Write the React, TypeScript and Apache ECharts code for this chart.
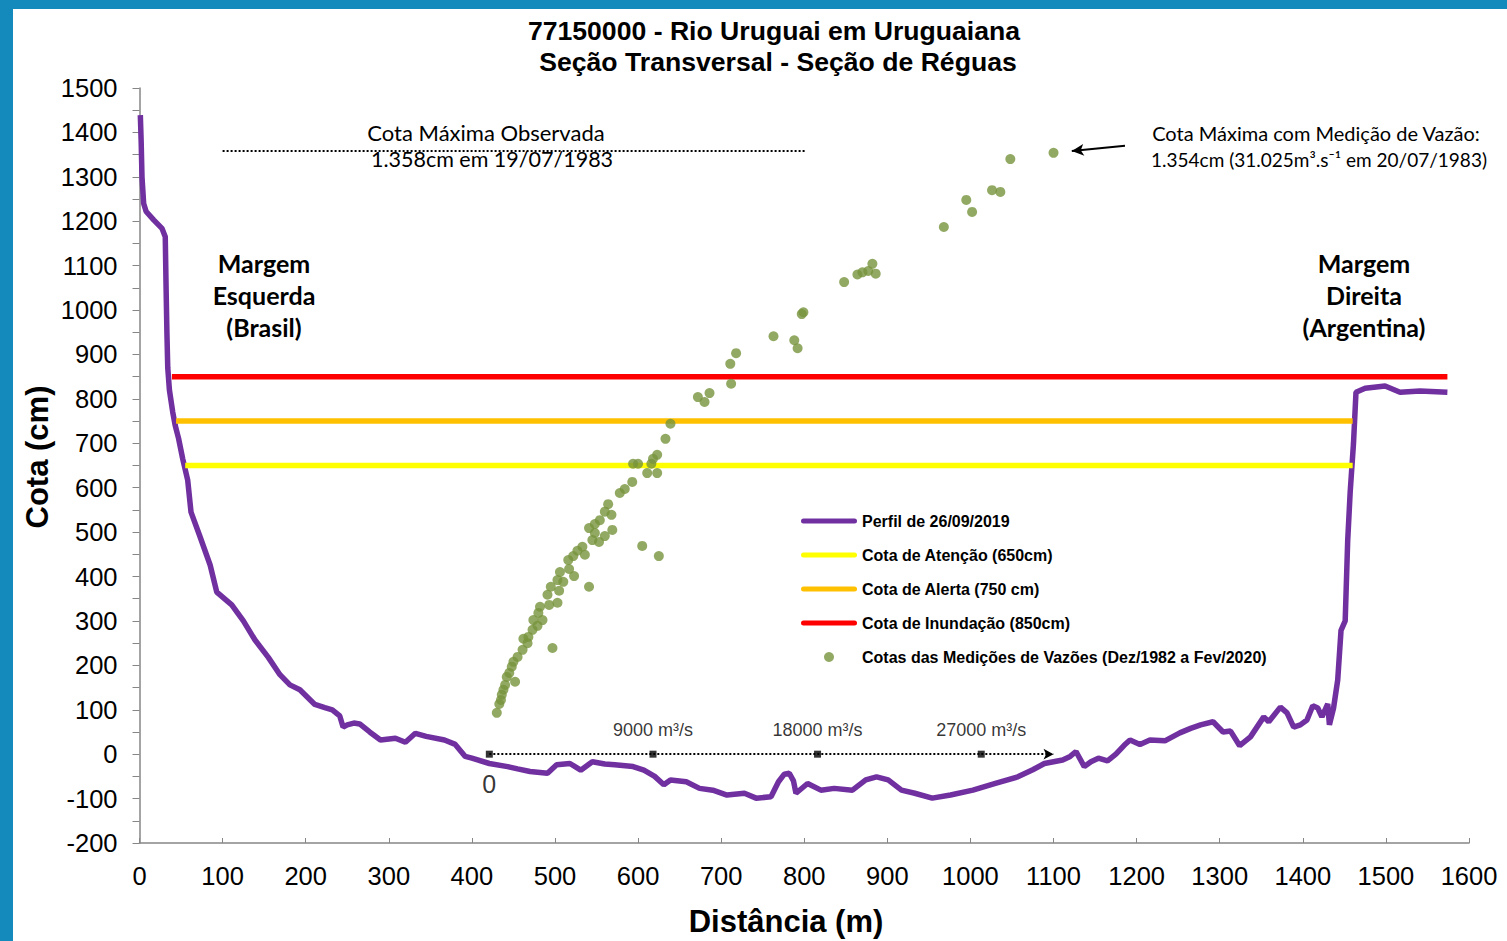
import React, { useEffect, useRef } from "react";
import * as echarts from "echarts";

// ---- Data ----
const titleLines = ["77150000 - Rio Uruguai em Uruguaiana", "Seção Transversal - Seção de Réguas"];

// Cross-section profile (26/09/2019): distance (m) and elevation (cm)
const profileX = [1, 2, 3, 5, 8, 17, 27, 31, 32, 33, 34, 36, 40, 43, 47, 52, 58, 62, 72, 85, 93, 111, 125, 139, 155, 169, 181, 193, 211, 223, 232, 241, 245, 250, 258, 265, 277, 290, 308, 320, 332, 345, 367, 380, 392, 400, 421, 443, 455, 470, 491, 502, 518, 531, 545, 560, 572, 594, 607, 620, 631, 639, 658, 674, 690, 707, 728, 742, 760, 769, 776, 782, 787, 790, 804, 820, 836, 858, 874, 887, 901, 917, 933, 954, 976, 1003, 1030, 1057, 1075, 1089, 1100, 1111, 1120, 1127, 1137, 1145, 1154, 1165, 1175, 1185, 1192, 1204, 1216, 1234, 1252, 1265, 1277, 1292, 1304, 1313, 1324, 1337, 1353, 1359, 1373, 1381, 1389, 1397, 1405, 1412, 1418, 1423, 1430, 1432, 1437, 1442, 1446, 1451, 1454, 1457, 1461, 1464, 1475, 1499, 1517, 1541, 1574];
const profileY = [1439, 1380, 1300, 1240, 1222, 1203, 1184, 1165, 1050, 948, 870, 820, 770, 740, 711, 665, 617, 545, 494, 426, 365, 336, 300, 257, 218, 179, 156, 145, 112, 105, 100, 86, 61, 66, 70, 68, 50, 32, 36, 27, 47, 40, 32, 22, -5, -9, -21, -28, -33, -39, -43, -24, -21, -36, -17, -22, -24, -28, -36, -50, -69, -58, -62, -77, -81, -92, -88, -99, -96, -62, -45, -43, -60, -88, -66, -81, -77, -81, -58, -51, -58, -81, -88, -99, -92, -81, -66, -51, -35, -21, -17, -13, -5, 6, -28, -17, -9, -15, 0, 20, 32, 22, 32, 30, 48, 58, 66, 73, 50, 52, 19, 39, 84, 73, 106, 93, 61, 66, 77, 109, 104, 84, 113, 66, 104, 167, 279, 300, 480, 590, 700, 815, 824, 829, 815, 818, 815];

// Reference levels (cm) and their drawn extent (m)
const levelNames = ["Cota de Atenção (650cm)", "Cota de Alerta (750 cm)", "Cota de Inundação (850cm)"];
const levelValues = [650, 750, 850];
const levelStartX = [55, 44, 39];
const levelEndX = [1460, 1460, 1574];
const levelColors = ["#FFFF00", "#FFC000", "#FF0000"];

// Stage of discharge measurements (distance on the discharge scale, stage cm)
const measX = [1100, 1048, 1026, 1036, 995, 1002, 968, 882, 877, 870, 864, 886, 848, 799, 797, 763, 788, 792,
  718, 711, 712, 672, 680, 686, 639, 633, 623, 618, 616, 594, 600, 611, 623, 593, 584, 578,
  564, 560, 568, 554, 548, 541, 548, 569, 560, 545, 553, 605, 625, 533, 527, 536, 522, 516, 517, 523, 506, 503, 510, 495, 505, 541, 491, 503, 493, 482, 480, 485, 474, 479, 473, 468, 462, 467, 497, 461, 455, 450, 448, 445, 442, 452, 440, 438, 436, 435, 433, 430];
const measY = [1354, 1340, 1270, 1266, 1248, 1221, 1187, 1104, 1088, 1085, 1080, 1082, 1063, 995, 991, 941, 932, 914,
  903, 879, 834, 804, 793, 813, 744, 710, 674, 665, 654, 654, 654, 633, 633, 613, 597, 588,
  563, 546, 539, 527, 518, 509, 498, 505, 491, 482, 478, 469, 446, 467, 458, 449, 446, 437, 417, 401, 410, 392, 388, 377, 368, 377, 359, 341, 336, 332, 318, 302, 302, 289, 280, 264, 260, 250, 239, 235, 219, 208, 197, 183, 174, 163, 156, 145, 134, 122, 113, 93];

// Discharge scale drawn along elevation 0
const dischargeTickX = [421, 618, 816, 1013];
const dischargeTickLabels = ["0", "9000 m³/s", "18000 m³/s", "27000 m³/s"];
const dischargeArrowEndX = 1100;

// Maximum observed stage line
const maxObserved = 1358;
const maxObservedStartX = 100;
const maxObservedEndX = 802;
// Maximum stage with discharge measurement arrow (from, to)
const maxMeasArrow = [[1186, 1370], [1122, 1358]];

const LINE_ICON = "path://M2.5,0 L53.5,0 A2.5,2.5 0 0 1 53.5,5 L2.5,5 A2.5,2.5 0 0 1 2.5,0 Z";

export default function App() {
  const ref = useRef<HTMLDivElement>(null);
  useEffect(() => {
    if (!ref.current) return;
    const chart = echarts.init(ref.current, null, { renderer: "svg" });
    const axisColor = "#868686";
    const numFont = "'Liberation Sans', Arial, sans-serif";
    const calFont = "Lato, 'Open Sans', sans-serif";
    const plain = (v: number) => String(v);

    const levelSeries = levelNames.map((n, i) => ({
      name: n,
      type: "line",
      data: [[levelStartX[i], levelValues[i]], [levelEndX[i], levelValues[i]]],
      symbol: "none",
      color: levelColors[i],
      itemStyle: { color: levelColors[i] },
      lineStyle: { color: levelColors[i], width: 5.5 },
      z: 3,
      silent: true,
    }));

    const center = { align: "center", verticalAlign: "middle", textAlign: "center", textVerticalAlign: "middle" };

    const option: any = {
      animation: false,
      backgroundColor: "#1489bb",
      grid: { left: 139.5, right: 38, top: 88, bottom: 98, containLabel: false },
      xAxis: {
        type: "value",
        min: 0,
        max: 1600,
        interval: 100,
        axisLine: { onZero: false, lineStyle: { color: axisColor, width: 1.5 } },
        axisTick: { inside: true, length: 5, lineStyle: { color: axisColor } },
        axisLabel: { color: "#000", fontSize: 25.5, fontFamily: numFont, margin: 20, formatter: plain },
        splitLine: { show: false },
      },
      yAxis: {
        type: "value",
        min: -200,
        max: 1500,
        interval: 100,
        axisLine: { show: true, onZero: false, lineStyle: { color: axisColor, width: 1.5 } },
        axisTick: { show: true, length: 7, lineStyle: { color: axisColor } },
        minorTick: { show: true, splitNumber: 2, length: 7, lineStyle: { color: axisColor } },
        axisLabel: { color: "#000", fontSize: 25.5, fontFamily: numFont, margin: 22, formatter: plain },
        splitLine: { show: false },
      },
      legend: {
        orient: "vertical",
        left: 801,
        top: 512,
        padding: 0,
        itemWidth: 56,
        itemHeight: 10,
        itemGap: 16,
        symbolKeepAspect: true,
        textStyle: { fontSize: 16, fontWeight: "bold", fontFamily: numFont, color: "#000", lineHeight: 18 },
        data: [
          { name: "Perfil de 26/09/2019", icon: LINE_ICON },
          ...levelNames.map((n) => ({ name: n, icon: LINE_ICON })),
          { name: "Cotas das Medições de Vazões (Dez/1982 a Fev/2020)", icon: "circle" },
        ],
      },
      series: [
        {
          name: "Perfil de 26/09/2019",
          type: "line",
          data: profileX.map((x, i) => [x, profileY[i]]),
          symbol: "none",
          color: "#7030A0",
          itemStyle: { color: "#7030A0" },
          lineStyle: { color: "#7030A0", width: 5.5 },
          z: 2,
          silent: true,
          markLine: {
            silent: true,
            symbol: ["none", "none"],
            label: { show: false },
            lineStyle: { type: "dotted", color: "#000", width: 2 },
            data: [[{ coord: [maxObservedStartX, maxObserved] }, { coord: [maxObservedEndX, maxObserved] }]],
          },
        },
        ...levelSeries,
        {
          name: "Cotas das Medições de Vazões (Dez/1982 a Fev/2020)",
          type: "scatter",
          data: measX.map((x, i) => [x, measY[i]]),
          symbol: "circle",
          symbolSize: 10,
          color: "#77933C",
          itemStyle: { color: "#77933C" },
          z: 5,
          silent: true,
          markLine: {
            silent: true,
            symbol: ["none", "arrow"],
            symbolSize: [9, 12],
            label: { show: false },
            lineStyle: { type: "solid", color: "#000", width: 2 },
            data: [[{ coord: maxMeasArrow[0] }, { coord: maxMeasArrow[1] }]],
          },
        },
        {
          name: "dischargeScale",
          type: "scatter",
          symbol: "rect",
          symbolSize: 7,
          itemStyle: { color: "#000" },
          z: 6,
          silent: true,
          data: dischargeTickX.map((x, i) => ({
            value: [x, 0],
            label: i === 0
              ? { show: true, position: "bottom", distance: 14, formatter: dischargeTickLabels[i], fontSize: 25, fontFamily: numFont, color: "#000" }
              : { show: true, position: "top", distance: 12, formatter: dischargeTickLabels[i], fontSize: 18, fontFamily: numFont, color: "#000" },
          })),
          markLine: {
            silent: true,
            symbol: ["none", "arrow"],
            symbolSize: [8, 10],
            label: { show: false },
            lineStyle: { type: "dotted", color: "#000", width: 2 },
            data: [[{ coord: [dischargeTickX[0], 0] }, { coord: [dischargeArrowEndX, 0] }]],
          },
        },
      ],
      graphic: [
        { type: "rect", z: -100, silent: true, shape: { x: 13, y: 9, width: 1494, height: 932 }, style: { fill: "#ffffff" } },
        { type: "text", x: 774, y: 31, style: { text: titleLines[0], font: `bold 26.6px ${numFont}`, fill: "#000", ...center } },
        { type: "text", x: 778, y: 62, style: { text: titleLines[1], font: `bold 26.6px ${numFont}`, fill: "#000", ...center } },
        { type: "text", x: 37, y: 457, rotation: Math.PI / 2, style: { text: "Cota (cm)", font: `bold 31px ${numFont}`, fill: "#000", ...center } },
        { type: "text", x: 786, y: 921, style: { text: "Distância (m)", font: `bold 31px ${numFont}`, fill: "#000", ...center } },
        { type: "text", x: 486, y: 132, style: { text: "Cota Máxima Observada", font: `22px ${calFont}`, fill: "#000", ...center } },
        { type: "text", x: 492, y: 159, style: { text: "1.358cm em 19/07/1983", font: `21.5px ${calFont}`, fill: "#000", ...center } },
        { type: "text", x: 1316, y: 133, style: { text: "Cota Máxima com Medição de Vazão:", font: `20px ${calFont}`, fill: "#000", ...center } },
        { type: "text", x: 1319, y: 159, style: { text: "1.354cm (31.025m³.s⁻¹ em 20/07/1983)", font: `19px ${calFont}`, fill: "#000", ...center } },
        { type: "text", x: 264, y: 295, style: { text: "Margem\nEsquerda\n(Brasil)", font: `bold 25px ${calFont}`, lineHeight: 32, fill: "#000", ...center } },
        { type: "text", x: 1364, y: 295, style: { text: "Margem\nDireita\n(Argentina)", font: `bold 25px ${calFont}`, lineHeight: 32, fill: "#000", ...center } },
      ],
    };
    chart.setOption(option);
    return () => chart.dispose();
  }, []);
  return <div ref={ref} style={{ position: "fixed", left: 0, top: 0, width: 1507, height: 941 }} />;
}
